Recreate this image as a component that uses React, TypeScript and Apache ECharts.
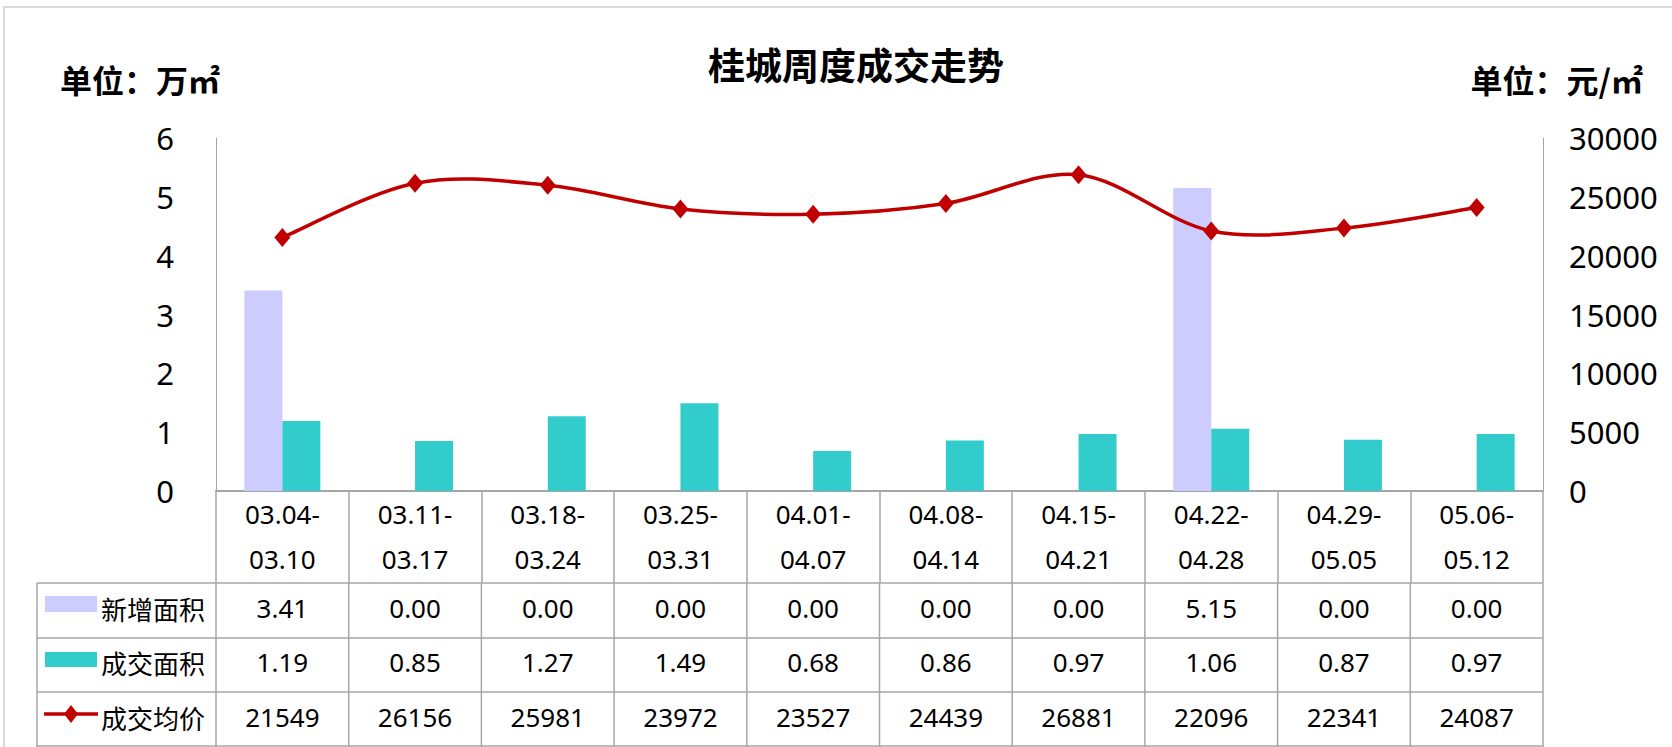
import React, { useEffect, useRef } from "react";
import * as echarts from "echarts";

const categories = [
  "03.04-\n03.10",
  "03.11-\n03.17",
  "03.18-\n03.24",
  "03.25-\n03.31",
  "04.01-\n04.07",
  "04.08-\n04.14",
  "04.15-\n04.21",
  "04.22-\n04.28",
  "04.29-\n05.05",
  "05.06-\n05.12",
];
const newArea = [3.41, 0.0, 0.0, 0.0, 0.0, 0.0, 0.0, 5.15, 0.0, 0.0];
const dealArea = [1.19, 0.85, 1.27, 1.49, 0.68, 0.86, 0.97, 1.06, 0.87, 0.97];
const avgPrice = [21549, 26156, 25981, 23972, 23527, 24439, 26881, 22096, 22341, 24087];
const seriesNames = ["新增面积", "成交面积", "成交均价"];
const titleText = "桂城周度成交走势";
const leftUnit = "单位：万㎡";
const rightUnit = "单位：元/㎡";
const leftAxis = { min: 0, max: 6, interval: 1 };
const rightAxis = { min: 0, max: 30000, interval: 5000 };

const C_NEW = "#CCCCFF";
const C_DEAL = "#33CCCC";
const C_PRICE = "#C00000";
const C_GRID = "#a6a6a6";
const FONT = '"Noto Sans", "Noto Sans CJK SC", sans-serif';
const FONT_CJK = '"Noto Sans CJK SC", sans-serif';

export default function App() {
  const ref = useRef<HTMLDivElement>(null);
  useEffect(() => {
    document.body.style.margin = "0";
    if (!ref.current) return;
    const chart = echarts.init(ref.current, null, { renderer: "svg" });
    const n = avgPrice.length;

    // Excel-style smoothed line (Catmull-Rom bezier segments), through the axis scale
    const renderSmooth = (params: any, api: any) => {
      const i = params.dataIndex;
      if (i >= n - 1) return { type: "group", children: [] };
      const pt = (k: number) => {
        const kk = Math.max(0, Math.min(n - 1, k));
        return api.coord([kk, avgPrice[kk]]);
      };
      const p0 = pt(i - 1);
      const p1 = pt(i);
      const p2 = pt(i + 1);
      const p3 = pt(i + 2);
      const t = 1 / 6;
      return {
        type: "bezierCurve",
        silent: true,
        shape: {
          x1: p1[0],
          y1: p1[1],
          cpx1: p1[0] + (p2[0] - p0[0]) * t,
          cpy1: p1[1] + (p2[1] - p0[1]) * t,
          cpx2: p2[0] - (p3[0] - p1[0]) * t,
          cpy2: p2[1] - (p3[1] - p1[1]) * t,
          x2: p2[0],
          y2: p2[1],
        },
        style: { stroke: C_PRICE, lineWidth: 3.5, fill: null },
      };
    };

    const option: any = {
      animation: false,
      backgroundColor: "#ffffff",
      title: {
        text: titleText,
        left: 851,
        top: 59,
        textAlign: "center",
        textVerticalAlign: "middle",
        textStyle: { fontFamily: FONT_CJK, fontSize: 37, fontWeight: "bold", color: "#000" },
      },
      grid: { left: 216, right: 129, top: 138, bottom: 256, containLabel: false },
      xAxis: {
        type: "category",
        data: categories,
        axisLine: { show: true, lineStyle: { color: C_GRID, width: 2 } },
        axisTick: { show: true, length: 92, interval: 0, lineStyle: { color: C_GRID, width: 1.5 } },
        axisLabel: {
          interval: 0,
          margin: 0,
          fontSize: 26,
          lineHeight: 45,
          color: "#000",
          fontFamily: FONT,
        },
      },
      yAxis: [
        {
          type: "value",
          min: leftAxis.min,
          max: leftAxis.max,
          interval: leftAxis.interval,
          axisLine: { show: true, lineStyle: { color: C_GRID, width: 1 } },
          axisTick: { show: false },
          splitLine: { show: false },
          axisLabel: { fontSize: 31, color: "#000", margin: 42, fontFamily: FONT, formatter: (v: number) => String(v) },
        },
        {
          type: "value",
          position: "right",
          min: rightAxis.min,
          max: rightAxis.max,
          interval: rightAxis.interval,
          axisLine: { show: true, lineStyle: { color: C_GRID, width: 1 } },
          axisTick: { show: false },
          splitLine: { show: false },
          axisLabel: { fontSize: 31, color: "#000", margin: 26, fontFamily: FONT, formatter: (v: number) => String(v) },
        },
      ],
      series: [
        {
          name: seriesNames[0],
          type: "bar",
          data: newArea,
          barWidth: 38,
          barGap: "0%",
          itemStyle: { color: C_NEW },
        },
        {
          name: seriesNames[1],
          type: "bar",
          data: dealArea,
          barWidth: 38,
          barGap: "0%",
          itemStyle: { color: C_DEAL },
        },
        {
          name: seriesNames[2] + "曲线",
          type: "custom",
          yAxisIndex: 1,
          data: avgPrice.map((v, i) => [i, v]),
          encode: { x: 0, y: 1 },
          renderItem: renderSmooth,
          z: 4,
        },
        {
          name: seriesNames[2],
          type: "line",
          yAxisIndex: 1,
          data: avgPrice,
          symbol: "diamond",
          symbolSize: [16, 19],
          lineStyle: { color: C_PRICE, width: 0, opacity: 0 },
          itemStyle: { color: C_PRICE },
          z: 5,
        },
      ],
    };
    chart.setOption(option);

    // Build the data table under the axis from the axis' own pixel scale
    const xs = categories.map((_, i) => chart.convertToPixel({ xAxisIndex: 0 }, i) as number);
    const colW = xs.length > 1 ? xs[1] - xs[0] : 130;
    const gLeft = xs[0] - colW / 2;
    const gRight = xs[xs.length - 1] + colW / 2;
    const tableLeft = 37;
    const rowLines = [583, 638, 692, 746];
    const rowCenters = [608, 662, 717];
    const lineStyle = { stroke: C_GRID, lineWidth: 1.5 };
    const els: any[] = [];

    els.push({
      type: "rect",
      shape: { x: 4, y: 7, width: 1800, height: 900 },
      style: { fill: null, stroke: "#d9d9d9", lineWidth: 2 },
      silent: true,
    });

    rowLines.forEach((y) =>
      els.push({ type: "line", shape: { x1: tableLeft, y1: y, x2: gRight, y2: y }, style: lineStyle, silent: true })
    );
    els.push({ type: "line", shape: { x1: tableLeft, y1: rowLines[0], x2: tableLeft, y2: 747 }, style: lineStyle, silent: true });
    for (let k = 0; k <= categories.length; k++) {
      const x = gLeft + k * colW;
      els.push({ type: "line", shape: { x1: x, y1: rowLines[0], x2: x, y2: 747 }, style: lineStyle, silent: true });
    }

    const rows = [
      newArea.map((v) => v.toFixed(2)),
      dealArea.map((v) => v.toFixed(2)),
      avgPrice.map((v) => String(v)),
    ];
    rows.forEach((vals, r) => {
      vals.forEach((t, i) => {
        els.push({
          type: "text",
          x: xs[i],
          y: rowCenters[r],
          style: { text: t, fontSize: 26, fontFamily: FONT, fill: "#000", align: "center", verticalAlign: "middle" },
          silent: true,
        });
      });
      els.push({
        type: "text",
        x: 101,
        y: rowCenters[r],
        style: { text: seriesNames[r], fontSize: 26, fontFamily: FONT_CJK, fill: "#000", align: "left", verticalAlign: "middle" },
        silent: true,
      });
    });
    // legend keys
    els.push({ type: "rect", shape: { x: 45, y: 596, width: 52, height: 16 }, style: { fill: C_NEW }, silent: true });
    els.push({ type: "rect", shape: { x: 45, y: 652, width: 52, height: 15 }, style: { fill: C_DEAL }, silent: true });
    els.push({ type: "line", shape: { x1: 44, y1: 714, x2: 98, y2: 714 }, style: { stroke: C_PRICE, lineWidth: 3.5 }, silent: true });
    els.push({
      type: "polygon",
      shape: { points: [[71, 705], [78, 714], [71, 723], [64, 714]] },
      style: { fill: C_PRICE },
      silent: true,
    });

    // unit labels
    els.push({
      type: "text",
      x: 60,
      y: 79,
      style: { text: leftUnit, fontSize: 32, fontWeight: "bold", fontFamily: FONT_CJK, fill: "#000", align: "left", verticalAlign: "middle" },
      silent: true,
    });
    els.push({
      type: "text",
      x: 1643,
      y: 79,
      style: { text: rightUnit, fontSize: 32, fontWeight: "bold", fontFamily: FONT_CJK, fill: "#000", align: "right", verticalAlign: "middle" },
      silent: true,
    });

    chart.setOption({ graphic: { elements: els } });

    return () => chart.dispose();
  }, []);
  return <div ref={ref} style={{ width: 1672, height: 747 }} />;
}
